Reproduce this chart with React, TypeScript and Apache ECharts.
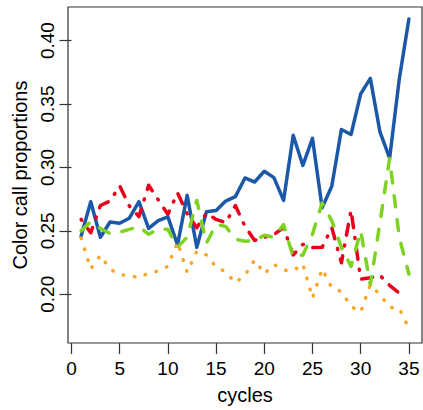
import React, { useEffect, useRef } from "react";
import * as echarts from "echarts";

const cycles = [1,2,3,4,5,6,7,8,9,10,11,12,13,14,15,16,17,18,19,20,21,22,23,24,25,26,27,28,29,30,31,32,33,34,35];
const xTicks = [0, 5, 10, 15, 20, 25, 30, 35];
const yTicks = [0.2, 0.25, 0.3, 0.35, 0.4];

const blueValues = [0.246,0.273,0.245,0.257,0.256,0.260,0.273,0.252,0.258,0.261,0.239,0.278,0.237,0.265,0.266,0.2735,0.277,0.2917,0.2885,0.297,0.292,0.274,0.3254,0.3016,0.3229,0.2683,0.2852,0.3299,0.326,0.358,0.3702,0.328,0.3073,0.3696,0.417];
const redValues = [0.259,0.2485,0.270,0.2735,0.2855,0.2697,0.2613,0.286,0.2745,0.263,0.280,0.2636,0.2525,0.264,0.259,0.2565,0.270,0.2535,0.2425,0.245,0.247,0.2527,0.231,0.2394,0.2368,0.237,0.2526,0.2248,0.2663,0.212,0.213,0.215,0.207,0.201];
const greenValues = [0.250,0.2573,0.2519,0.248,0.249,0.2512,0.2535,0.2473,0.2512,0.2512,0.2372,0.245,0.274,0.2403,0.255,0.2535,0.2434,0.2418,0.2426,0.2465,0.245,0.255,0.2293,0.231,0.2473,0.272,0.258,0.237,0.222,0.25,0.2074,0.2565,0.307,0.245,0.216];
const orangeValues = [0.2444,0.220,0.2307,0.220,0.2153,0.215,0.213,0.2169,0.2183,0.2221,0.2411,0.2174,0.234,0.231,0.2216,0.2177,0.209,0.2153,0.227,0.2162,0.2235,0.219,0.2185,0.224,0.197,0.220,0.2052,0.2021,0.1904,0.186,0.2075,0.1997,0.1897,0.189,0.173];

const FONT = "'Liberation Sans', Arial, Helvetica, sans-serif";

function pairs(vals: number[]) {
  return vals.map((v, i) => [cycles[i], v]);
}

export default function App() {
  const ref = useRef<HTMLDivElement>(null);
  useEffect(() => {
    if (!ref.current) return;
    const chart = echarts.init(ref.current, undefined, { renderer: "svg" });
    const base = { type: "line", showSymbol: false, symbol: "none", silent: true };
    chart.setOption({
      animation: false,
      backgroundColor: "#ffffff",
      grid: {
        left: 68, right: 1, top: 7, bottom: 63,
        show: true, borderColor: "#333333", borderWidth: 1.2, backgroundColor: "transparent",
      },
      xAxis: {
        type: "value",
        min: -0.36, max: 36.36,
        name: "cycles",
        nameLocation: "middle",
        nameGap: 42,
        nameTextStyle: { fontFamily: FONT, fontSize: 20, color: "#000" },
        axisLine: { show: false },
        axisTick: { show: true, length: 11, customValues: xTicks, lineStyle: { color: "#333", width: 1.2 } },
        axisLabel: { customValues: xTicks, fontFamily: FONT, fontSize: 19, color: "#000", margin: 16 },
        splitLine: { show: false },
      },
      yAxis: {
        type: "value",
        min: 0.1616, max: 0.4265,
        name: "Color call proportions",
        nameLocation: "middle",
        nameRotate: 90,
        nameGap: 37,
        nameTextStyle: { fontFamily: FONT, fontSize: 20, color: "#000" },
        axisLine: { show: false },
        axisTick: { show: true, length: 12, customValues: yTicks, lineStyle: { color: "#333", width: 1.2 } },
        axisLabel: {
          customValues: yTicks, rotate: 90, fontFamily: FONT, fontSize: 19, color: "#000", margin: 11,
          formatter: (v: number) => v.toFixed(2),
        },
        splitLine: { show: false },
      },
      series: [
        { ...base, name: "blue", data: pairs(blueValues), lineStyle: { color: "#1B59A8", width: 3.5, cap: "round", join: "round" } },
        { ...base, name: "red", data: pairs(redValues), lineStyle: { color: "#E8001A", width: 3.5, type: [1, 10, 11, 10], cap: "round", join: "round" } },
        { ...base, name: "green", data: pairs(greenValues), lineStyle: { color: "#7DD222", width: 3.5, type: [11, 13], cap: "round", join: "round" } },
        { ...base, name: "orange", data: pairs(orangeValues), lineStyle: { color: "#F9A620", width: 3.5, type: [0.5, 11], cap: "round", join: "round" } },
      ],
    });
    return () => chart.dispose();
  }, []);
  return <div ref={ref} style={{ position: "fixed", left: 0, top: 0, width: 423, height: 410 }} />;
}
